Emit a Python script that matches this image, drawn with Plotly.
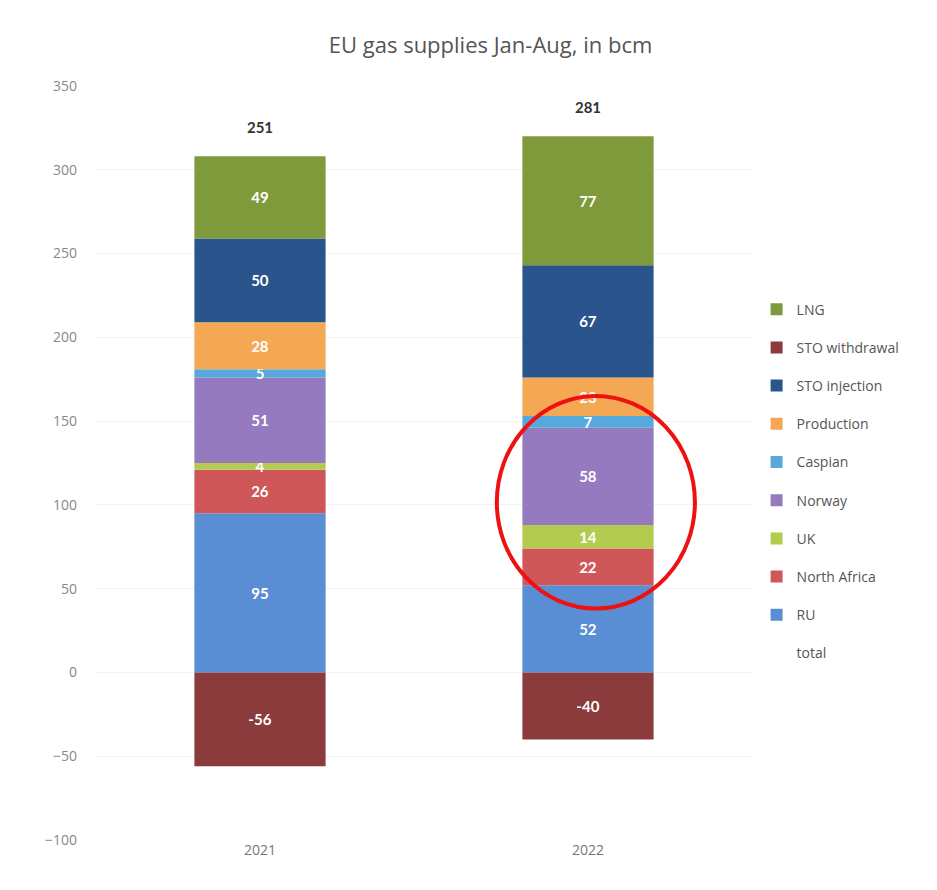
import plotly.graph_objects as go

years = ["2021", "2022"]
series_names = ["RU", "North Africa", "UK", "Norway", "Caspian", "Production",
                "STO injection", "STO withdrawal", "LNG"]
ru = [95, 52]
north_africa = [26, 22]
uk = [4, 14]
norway = [51, 58]
caspian = [5, 7]
production = [28, 23]
sto_injection = [50, 67]
sto_withdrawal = [-56, -40]
lng = [49, 77]
totals = [251, 281]

colors = {
    "RU": "#5a8ed4",
    "North Africa": "#cf5759",
    "UK": "#b3cb4e",
    "Norway": "#967abf",
    "Caspian": "#57a9dc",
    "Production": "#f4a853",
    "STO injection": "#2a558c",
    "STO withdrawal": "#8b3b3b",
    "LNG": "#7f9a3a",
}
values = [ru, north_africa, uk, norway, caspian, production, sto_injection, sto_withdrawal, lng]
n = len(series_names)

fig = go.Figure()

pos_sums = [sum(v[i] for v in values if v[i] > 0) for i in range(len(years))]
fig.add_trace(go.Scatter(
    x=years, y=pos_sums, text=[str(t) for t in totals], name="total",
    mode="markers+text", textposition="top center",
    marker=dict(size=30, color="rgba(0,0,0,0)"),
    textfont=dict(family="Lato", size=15, color="#333333", weight="bold"),
    legendgroup="total", legendrank=n + 1, hoverinfo="skip", cliponaxis=False,
))

for k, (name, vals) in enumerate(zip(series_names, values)):
    fig.add_trace(go.Bar(
        x=years, y=vals, name=name, legendgroup=name, legendrank=n - k,
        marker=dict(color=colors[name], line=dict(width=0)),
        text=[str(v) for v in vals], textposition="inside",
        insidetextanchor="middle", constraintext="none", textangle=0,
        textfont=dict(family="Lato", size=15, color="white", weight="bold"),
    ))

fig.add_shape(type="circle", xref="paper", yref="paper",
              x0=0.611, x1=0.913, y0=0.307, y1=0.589,
              line=dict(color="#ee1111", width=4))

fig.update_layout(
    width=937, height=890,
    barmode="relative", bargap=0.6,
    paper_bgcolor="white", plot_bgcolor="white",
    margin=dict(l=88, r=193, t=78, b=58),
    title=dict(text="EU gas supplies Jan-Aug, in bcm", x=0.515, xref="container",
               y=0.958, yref="container", xanchor="center", yanchor="middle",
               font=dict(family="Open Sans", size=22, color="#555555")),
    legend=dict(traceorder="grouped", x=1.007, xanchor="left", y=0.476, yanchor="middle",
                tracegroupgap=17, font=dict(family="Open Sans", size=14, color="#555555"),
                itemwidth=30, bgcolor="rgba(0,0,0,0)"),
    showlegend=True,
    font=dict(family="Open Sans"),
)
fig.update_xaxes(type="category", showline=False, showgrid=False, ticks="",
                 tickfont=dict(family="Open Sans", size=14, color="#777777"))
fig.update_yaxes(range=[-100, 350], dtick=50, showgrid=True, gridcolor="#f2f2f2",
                 zeroline=False, showline=False, ticks="", ticklabelstandoff=18,
                 tickfont=dict(family="Open Sans", size=14, color="#888888"))

fig.write_html("out.html")
